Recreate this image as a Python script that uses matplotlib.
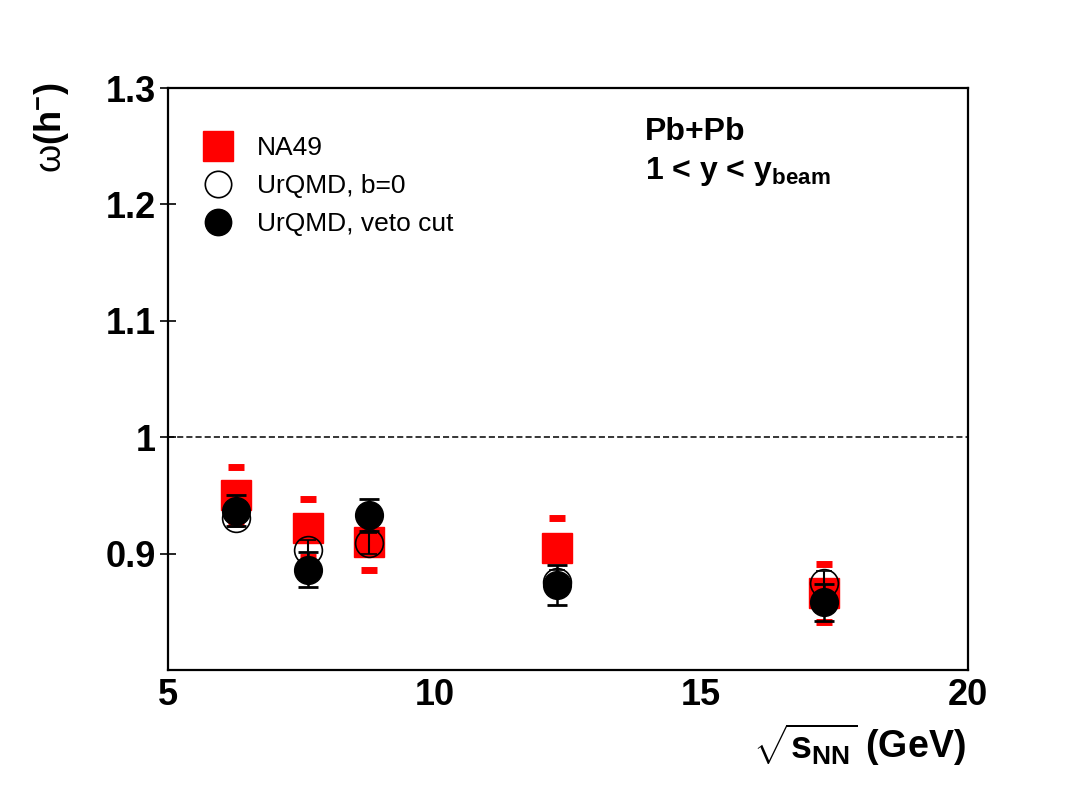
import matplotlib
matplotlib.use("Agg")
import matplotlib.pyplot as plt
from matplotlib.lines import Line2D

plt.rcParams["font.family"] = ["Liberation Sans", "DejaVu Sans"]
plt.rcParams["mathtext.fontset"] = "custom"
plt.rcParams["mathtext.rm"] = "Liberation Sans:bold"
plt.rcParams["mathtext.it"] = "Liberation Sans"
plt.rcParams["mathtext.bf"] = "Liberation Sans:bold"

# ---- data ----
sqrt_s = [6.27, 7.62, 8.77, 12.3, 17.3]
na49 = [0.950, 0.922, 0.910, 0.905, 0.866]
na49_err = [0.024, 0.025, 0.024, 0.026, 0.025]
urqmd_b0 = [0.931, 0.903, 0.909, 0.876, 0.875]
urqmd_b0_err = [0.008, 0.009, 0.009, 0.010, 0.010]
urqmd_veto = [0.937, 0.886, 0.933, 0.873, 0.858]
urqmd_veto_err = [0.013, 0.015, 0.014, 0.017, 0.016]

fig = plt.figure(figsize=(10.86, 7.86), dpi=100)
ax = fig.add_axes([0.1547, 0.1476, 0.7366, 0.7404])

# NA49: red squares, error shown as caps only
ax.errorbar(sqrt_s, na49, yerr=na49_err, fmt="none", ecolor="red",
            elinewidth=0, capsize=6, capthick=5, zorder=2)
ax.plot(sqrt_s, na49, "s", color="red", markersize=21, zorder=2)

# UrQMD b=0: open circles
ax.errorbar(sqrt_s, urqmd_b0, yerr=urqmd_b0_err, fmt="o", mfc="none",
            mec="black", color="black", markersize=20, mew=1.2,
            elinewidth=1.5, capsize=6, capthick=2, zorder=3)

# UrQMD veto cut: filled circles
ax.errorbar(sqrt_s, urqmd_veto, yerr=urqmd_veto_err, fmt="o", mfc="black",
            mec="black", color="black", markersize=20,
            elinewidth=1.8, capsize=7, capthick=2, zorder=4)

ax.axhline(1.0, color="black", linestyle="--", linewidth=1.1, dashes=(4, 2), zorder=1)

ax.set_xlim(5, 20)
ax.set_ylim(0.8, 1.3)
ax.set_xticks([5, 10, 15, 20])
ax.set_yticks([0.9, 1.0, 1.1, 1.2, 1.3])
ax.set_yticklabels(["0.9", "1", "1.1", "1.2", "1.3"])
ax.tick_params(axis="both", direction="inout", length=12, width=1.2,
               labelsize=26, pad=3)
ax.tick_params(axis="x", length=0, pad=6)
for lab in ax.get_xticklabels() + ax.get_yticklabels():
    lab.set_fontweight("bold")
for sp in ax.spines.values():
    sp.set_linewidth(1.6)

handles = [
    Line2D([], [], marker="s", color="red", linestyle="none", markersize=22),
    Line2D([], [], marker="o", mfc="none", mec="black", linestyle="none",
           markersize=19, mew=1.2),
    Line2D([], [], marker="o", color="black", linestyle="none", markersize=19),
]
ax.legend(handles, ["NA49", "UrQMD, b=0", "UrQMD, veto cut"],
          loc="upper left", bbox_to_anchor=(0.025, 0.935), frameon=False,
          fontsize=19, handletextpad=0.7, labelspacing=0.52,
          borderaxespad=0, handlelength=1.5)

ax.text(0.596, 0.925, "Pb+Pb", transform=ax.transAxes, fontsize=23,
        fontweight="bold", va="center")
ax.text(0.596, 0.856, r"1 < y < y$_{\mathbf{beam}}$", transform=ax.transAxes,
        fontsize=23, fontweight="bold", va="center")

fig.text(0.047, 0.895, r"$\omega$(h$^{-}$)", rotation=90, fontsize=26,
         fontweight="bold", ha="center", va="top")
fig.text(0.889, 0.035, r"$\sqrt{\mathbf{s}_{\mathbf{NN}}}$ (GeV)", fontsize=27,
         fontweight="bold", ha="right", va="baseline")

fig.savefig("out.png", dpi=100, facecolor="white")
